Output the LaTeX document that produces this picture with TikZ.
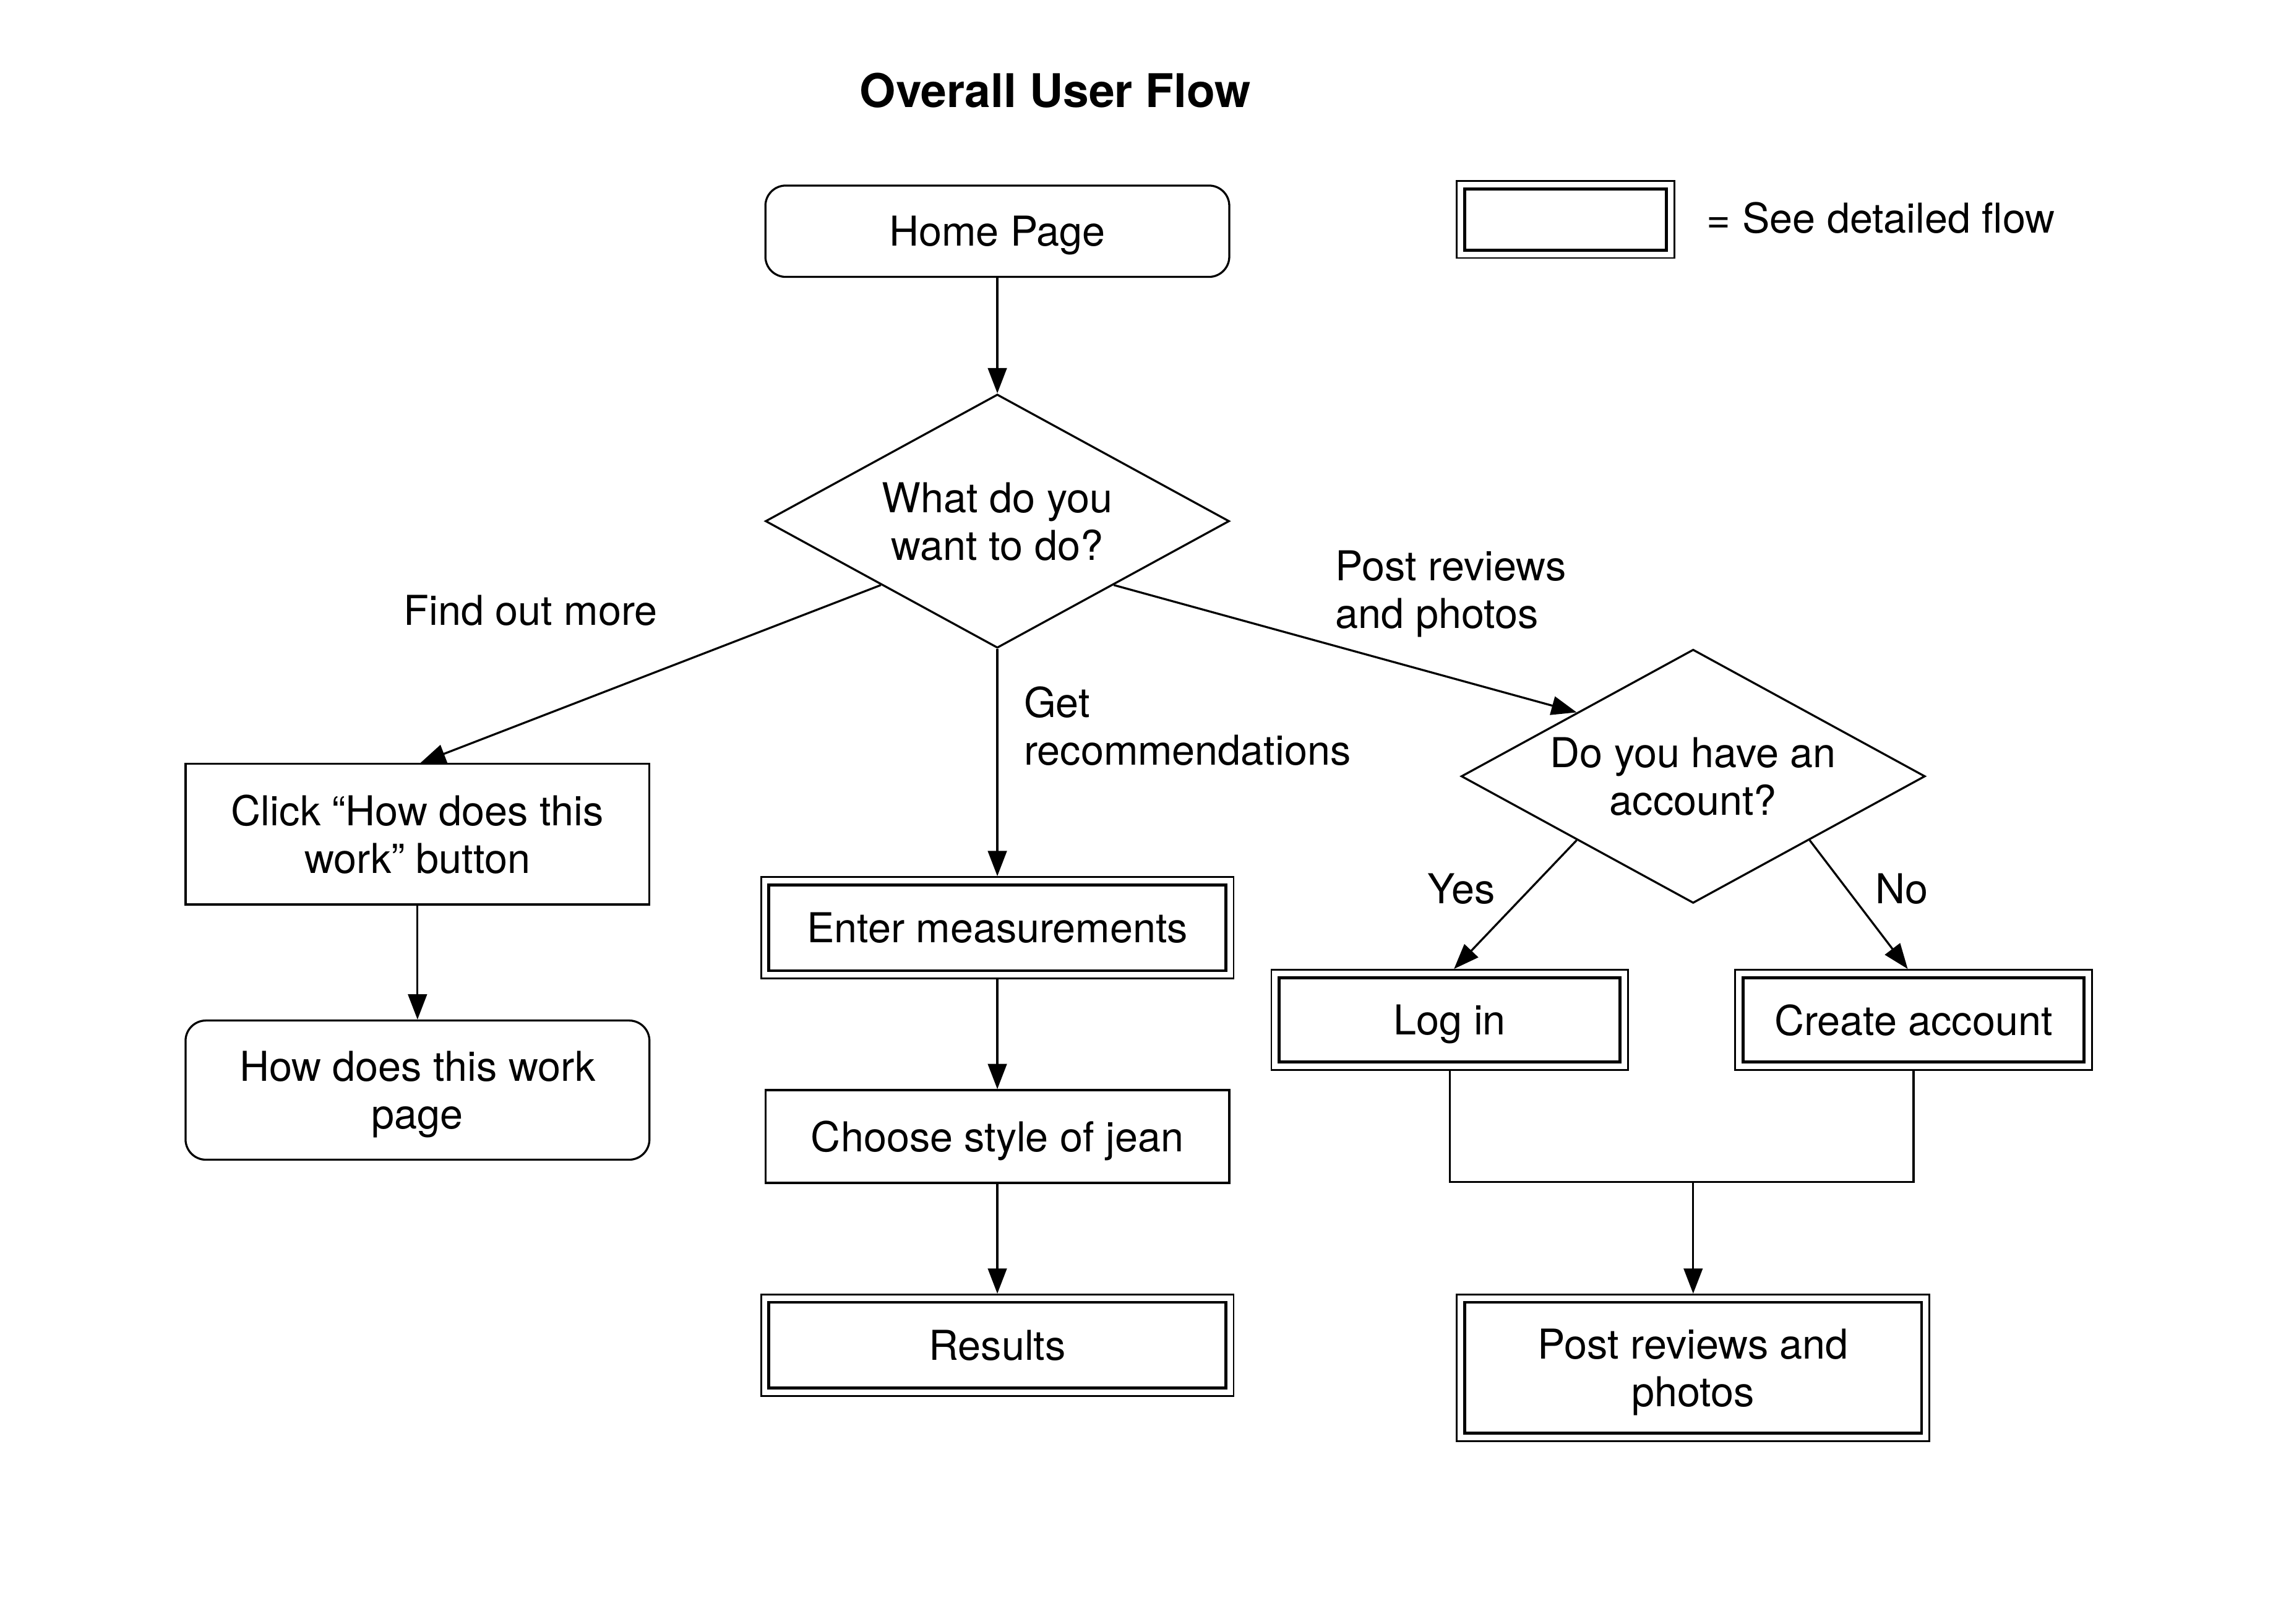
\documentclass[tikz,border=0pt]{standalone}
\usepackage{fontspec}
\setmainfont{TeX Gyre Heros}
\usetikzlibrary{shapes.geometric,arrows.meta}
\begin{document}
\begin{tikzpicture}[x=0.5pt,y=-0.5pt,
  every node/.style={font=\fontsize{14.2}{16.4}\selectfont, align=center, text depth=0pt},
  conn/.style={line width=0.7pt},
  arr/.style={conn,-{Triangle[length=8.7pt,width=6.5pt]}},
  box/.style={draw, line width=0.7pt, minimum width=160pt, minimum height=32pt, inner sep=0pt},
  rbox/.style={box, rounded corners=7pt},
  dec/.style={draw, line width=0.7pt, shape=diamond, aspect=1.83, inner sep=0pt, minimum width=160pt, minimum height=87.5pt},
  dbl/.style={draw, line width=0.6pt, inner sep=0pt},
  innerline/.style={line width=1pt},
  lbl/.style={align=left, anchor=west, inner sep=0pt},
  titlestyle/.style={font=\fontsize{16}{19}\selectfont\bfseries}
]
\fill[white] (0,0) rectangle (1568,1120);
\useasboundingbox (0,0) rectangle (1568,1120);

\node[titlestyle] (title) at (728,62) {Overall User Flow};

% legend
\node[dbl, minimum width=75pt, minimum height=26.5pt] (legend) at (1080,151.5) {};
\node[lbl] (legendtxt) at (1177,150) {= See detailed flow};

% nodes
\node[rbox, minimum height=31.5pt] (home) at (688,159.5) {Home Page};
\node[dec] (d1) at (688,359.5) {What do you\\want to do?};
\node[box, minimum height=48.5pt] (click) at (288,575.5) {Click “How does this\\work” button};
\node[rbox, minimum height=48pt] (hows) at (288,752) {How does this work\\page};
\node[dbl, minimum width=163pt, minimum height=35pt] (enter) at (688,640) {Enter measurements};
\node[box] (choose) at (688,784) {Choose style of jean};
\node[dbl, minimum width=163pt, minimum height=35pt] (results) at (688,928) {Results};
\node[dec] (d2) at (1168,535.5) {Do you have an\\account?};
\node[dbl, minimum width=123pt, minimum height=34.5pt] (login) at (1000,703.5) {Log in};
\node[dbl, minimum width=123pt, minimum height=34.5pt] (create) at (1320,703.5) {Create account};
\node[dbl, minimum width=163pt, minimum height=50.5pt] (post) at (1168,943.5) {Post reviews and\\photos};

% inner lines of the double boxes
\foreach \n in {legend,enter,results,login,create,post}
  \draw[innerline] ([shift={(3pt,3pt)}]\n.south west) rectangle ([shift={(-3pt,-3pt)}]\n.north east);

% labels
\node (lfind) at (366,421) {Find out more};
\node[lbl] (lget) at (706,500.5) {Get\\recommendations};
\node[lbl] (lpost) at (921,406.5) {Post reviews\\and photos};
\node (lyes) at (1008,613) {Yes};
\node (lno) at (1312,613) {No};

% connectors
\draw[arr] (home.south) -- (d1.north);
\draw[arr] (d1.south west) -- ([xshift=1pt]click.north);
\draw[arr] (d1.south) -- (enter.north);
\draw[arr] (d1.south east) -- (d2.north west);
\draw[arr] (click.south) -- (hows.north);
\draw[arr] (enter.south) -- (choose.north);
\draw[arr] (choose.south) -- (results.north);
\draw[arr] (d2.south west) -- ([xshift=1.5pt]login.north);
\draw[arr] (d2.south east) -- ([xshift=-2pt]create.north);
\coordinate (join) at (1168,815.5);
\draw[conn] (login.south) |- (join) -| (create.south);
\draw[arr] (join) -- (post.north);
\end{tikzpicture}
\end{document}
